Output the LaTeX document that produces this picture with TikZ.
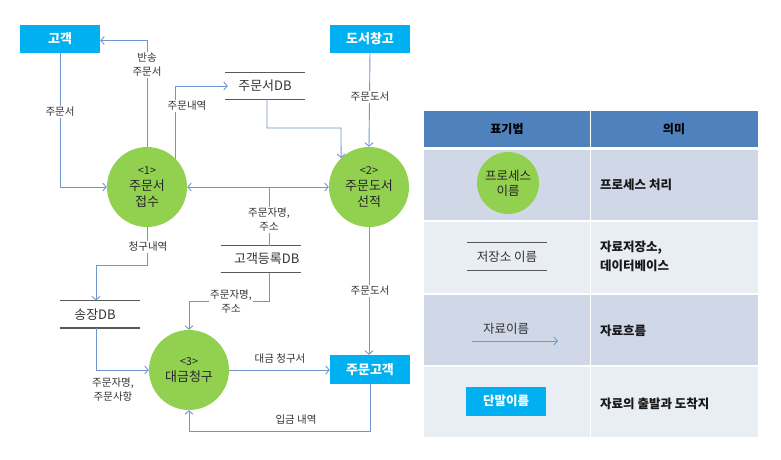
\documentclass[tikz,border=0pt]{standalone}
\usepackage{fontspec}
\setmainfont{Noto Sans CJK KR}
\usetikzlibrary{arrows.meta}
\definecolor{flowc}{RGB}{112,150,208}
\definecolor{procc}{RGB}{146,208,80}
\definecolor{termc}{RGB}{0,176,240}
\definecolor{storec}{RGB}{89,89,89}
\definecolor{txtc}{RGB}{50,50,50}
\definecolor{hdrc}{RGB}{79,129,189}
\definecolor{rowa}{RGB}{208,216,232}
\definecolor{rowb}{RGB}{233,237,244}
\tikzset{
  flow/.style={draw=flowc, line width=0.9pt, -{Straight Barb[length=3.5pt,width=8pt]}},
  flowtwo/.style={draw=flowc, line width=0.9pt, {Straight Barb[length=3.5pt,width=8pt]}-{Straight Barb[length=3.5pt,width=8pt]}},
  flowplain/.style={draw=flowc, line width=0.9pt},
  proc/.style={circle, fill=procc, minimum size=80pt, inner sep=0pt, align=center, text=black!85, font=\fontsize{13}{16}\selectfont},
  term/.style={rectangle, fill=termc, minimum width=80pt, minimum height=28pt, inner sep=0pt, text=white, font=\fontsize{13}{16}\selectfont\bfseries},
  store/.style={rectangle, minimum width=80pt, minimum height=26pt, inner sep=0pt, text=black!80, font=\fontsize{13}{16}\selectfont},
  storeline/.style={draw=storec, line width=1.3pt},
  lbl/.style={fill=white, inner sep=1pt, align=center, text=txtc, font=\fontsize{10.5}{14}\selectfont},
  lblnf/.style={inner sep=1pt, align=center, text=txtc, font=\fontsize{10.5}{14}\selectfont},
  thead/.style={text=black, font=\fontsize{12}{15}\selectfont\bfseries},
  tdesc/.style={anchor=west, align=left, text=black!90, inner sep=0pt, font=\fontsize{12.5}{19}\selectfont\bfseries},
}
\begin{document}
\begin{tikzpicture}[x=1pt,y=-1pt]
\useasboundingbox (0,0) rectangle (781,459);

% ---------- diagram nodes ----------
\node[term] (cust) at (60,39) {고객};
\node[term] (ware) at (370,39) {도서창고};
\node[term, minimum height=29pt] (ocust) at (370,369.5) {주문고객};
\node[proc] (c1) at (147,187) {{\fontsize{11}{14}\selectfont<1>}\\주문서\\접수};
\node[proc] (c2) at (369,187) {{\fontsize{11}{14}\selectfont<2>}\\주문도서\\선적};
\node[proc] (c3) at (189,370) {{\fontsize{11}{14}\selectfont<3>}\\대금청구};
\node[store] (db1) at (265,86) {주문서DB};
\node[store, minimum height=26.6pt] (db2) at (260.7,259) {\hspace*{12pt}고객등록DB};
\node[store, minimum height=27pt] (db3) at (100,314.2) {송장DB\hspace*{10pt}};
\foreach \n in {db1,db2,db3}
  \draw[storeline] (\n.north west) -- (\n.north east) (\n.south west) -- (\n.south east);

\coordinate (b1) at (341,128);
\coordinate (b2) at (96,265);
\coordinate (b3) at (230,301);
\coordinate (b4) at (280,431);

% ---------- connectors ----------
\draw[flow] (cust.south) |- (c1.west);
\draw[flow] (c1.north) |- ([yshift=-1.5pt]cust.east);
\draw[flow, shorten >=-3pt] (c1.44) |- (db1.west);
\draw[flow] ([xshift=2pt]db1.south) |- (b1) -- (c2.134);
\draw[flow] (ware.south) -- (c2.north);
\draw[flowtwo] (c1.east) -- (c2.west);
\draw[flowplain] ([xshift=8.6pt]db2.north) -- ([xshift=8.6pt]db2.north |- c1.east);
\draw[flow] (c1.south) |- (b2) -- (b2 |- db3.north);
\draw[flow] (b2 |- db3.south) |- (c3.west);
\draw[flow] ([xshift=8.6pt]db2.south) |- (b3) -| (c3.north);
\draw[flow] (c2.south) -- (c2.south |- ocust.north);
\draw[flow] (c3.east) -- (c3.east -| ocust.west);
\draw[flow] (ocust.south) |- (b4) -| (c3.south);

% ---------- labels ----------
\node[lbl] (l1) at (60,112) {주문서};
\node[lbl] (l2) at (147,65) {반송\\주문서};
\node[lbl] (l3) at (187,106) {주문내역};
\node[lbl] (l4) at (370,97) {주문도서};
\node[lbl] (l5) at (269,220) {주문자명,\\주소};
\node[lbl] (l6) at (148,247) {청구내역};
\node[lbl] (l7) at (231,302) {주문자명,\\주소};
\node[lblnf] (l8) at (113,390) {주문자명,\\주문사항};
\node[lbl] (l9) at (370,291) {주문도서};
\node[lblnf] (l10) at (280,359) {대금 청구서};
\node[lblnf] (l11) at (296,420) {입금 내역};

% ---------- legend table ----------
\fill[hdrc] (424,111) rectangle (758,147);
\fill[rowa] (424,150) rectangle (758,220);
\fill[rowb] (424,222) rectangle (758,293);
\fill[rowa] (424,295) rectangle (758,365);
\fill[rowb] (424,367) rectangle (758,437);
\draw[white, line width=1.5pt] (590.3,109) -- (590.3,439);

\node[thead] (h1) at (507,129) {표기법};
\node[thead] (h2) at (674,129) {의미};

\node[proc, minimum size=62pt, font=\fontsize{12.5}{15}\selectfont] (lp) at (508,183) {프로세스\\이름};
\node[store, minimum height=27pt, font=\fontsize{12.5}{15}\selectfont] (ls) at (507,256.5) {저장소 이름};
\draw[storeline] (ls.north west) -- (ls.north east) (ls.south west) -- (ls.south east);
\coordinate (la1) at (472,341);
\coordinate (la2) at (558,341);
\draw[flow] (la1) -- (la2);
\node[lblnf, font=\fontsize{12.5}{15}\selectfont] (ll) at (506,329) {자료이름};
\node[term, minimum width=80pt, minimum height=29pt, font=\fontsize{12.5}{15}\selectfont\bfseries] (lt) at (506,401) {단말이름};

\node[tdesc] (d1) at (600,185) {프로세스 처리};
\node[tdesc] (d2) at (600,256) {자료저장소,\\데이터베이스};
\node[tdesc] (d3) at (600,330.5) {자료흐름};
\node[tdesc] (d4) at (600,404) {자료의 출발과 도착지};
\end{tikzpicture}
\end{document}
